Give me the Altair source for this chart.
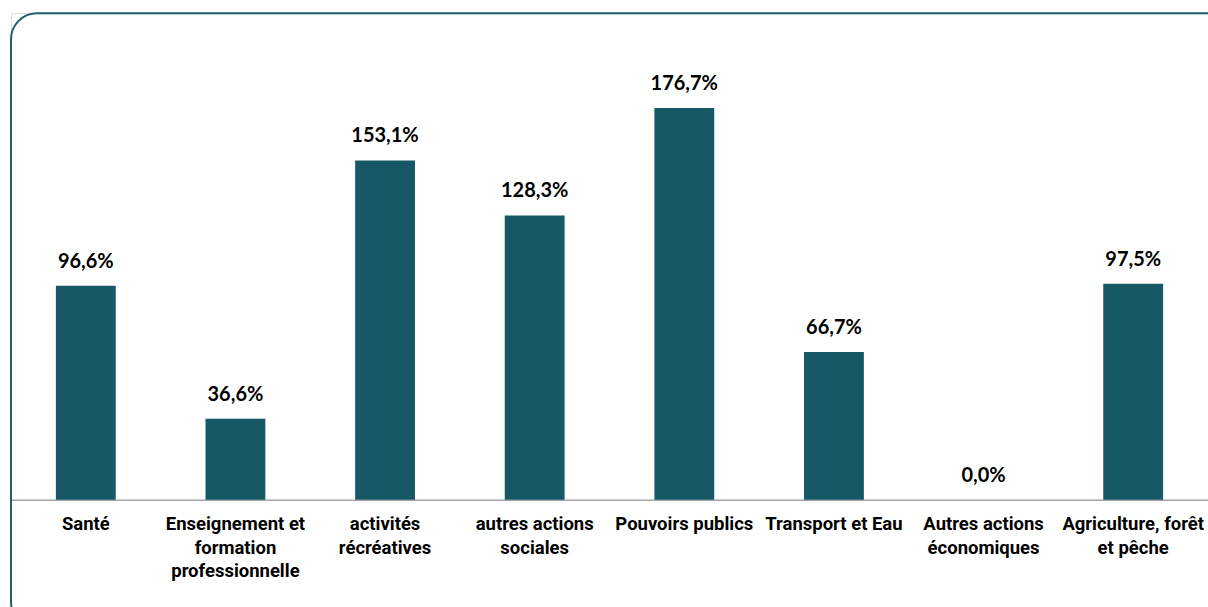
import altair as alt
import pandas as pd

categories = [
    "Santé",
    "Enseignement et|formation|professionnelle",
    "activités|récréatives",
    "autres actions|sociales",
    "Pouvoirs publics",
    "Transport et Eau",
    "Autres actions|économiques",
    "Agriculture, forêt|et pêche",
]
values = [96.6, 36.6, 153.1, 128.3, 176.7, 66.7, 0.0, 97.5]
labels = [f"{v:.1f}%".replace(".", ",") for v in values]

df = pd.DataFrame({"cat": categories, "val": values, "lab": labels})

W, H = 1198, 487
x = alt.X("cat:N", sort=categories,
          scale=alt.Scale(paddingInner=0.6, paddingOuter=0.3),
          axis=alt.Axis(title=None, labelAngle=0, ticks=False, domainColor="#a6a6a6",
                        domainWidth=1.5, labelPadding=15, labelBaseline="top",
                        labelFont="Roboto",
                        labelFontWeight="bold", labelFontSize=18.5, labelColor="#000000",
                        labelLineHeight=23.5, labelLimit=0,
                        labelExpr="split(datum.label, '|')"))
y = alt.Y("val:Q", scale=alt.Scale(domain=[0, 219.5], nice=False, zero=True), axis=None)

bars = alt.Chart(df).mark_bar(color="#175866").encode(x=x, y=y)
text = alt.Chart(df).mark_text(dy=-14, baseline="bottom", font="Lato", fontWeight="bold",
                               fontSize=20, color="#000000").encode(
    x=alt.X("cat:N", sort=categories), y=y, text="lab:N")

border = alt.Chart(pd.DataFrame({"a": [0]})).mark_rect(
    fill=None, stroke="#1f5f6b", strokeWidth=2, cornerRadius=26
).encode(x=alt.value(0), x2=alt.value(1230), y=alt.value(0), y2=alt.value(615))

chart = alt.layer(border, bars, text).properties(
    width=W, height=H,
    autosize=alt.AutoSizeParams(type="none"),
    padding={"left": 11, "top": 13, "right": 0, "bottom": 108},
).configure_view(stroke=None).configure(background="white")

chart.save("out.html", embed_options={"renderer": "svg", "actions": False})
